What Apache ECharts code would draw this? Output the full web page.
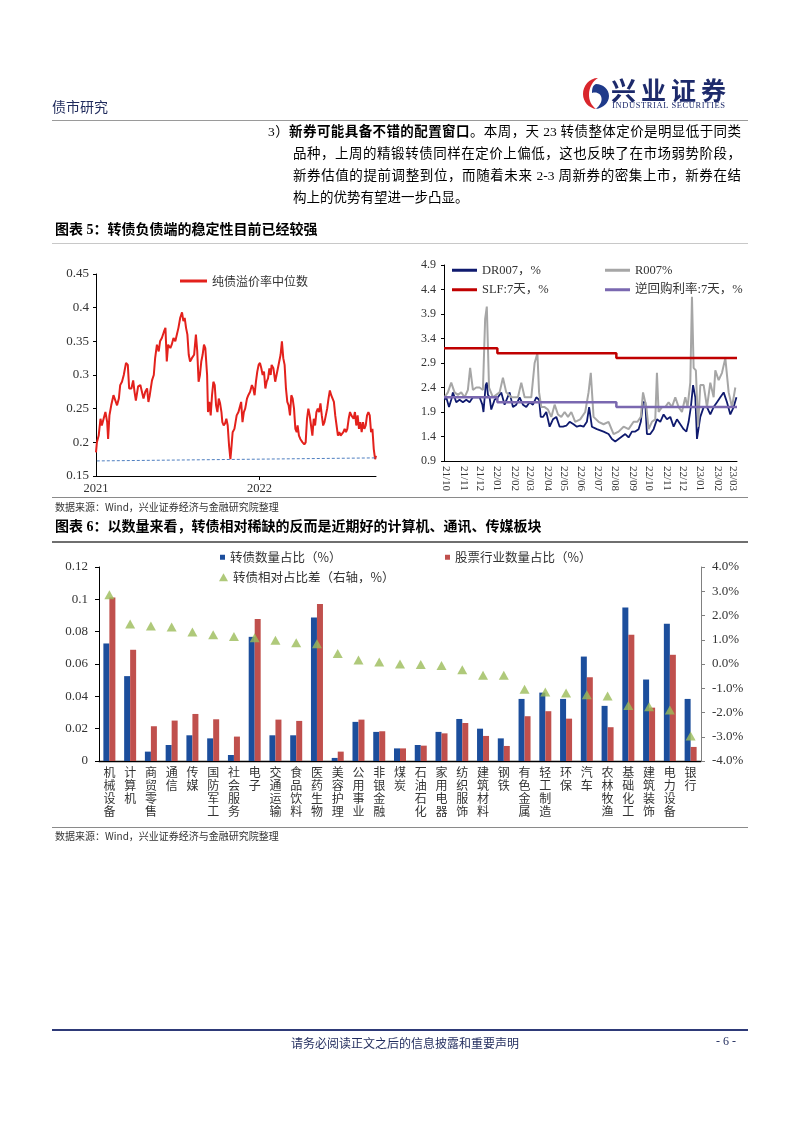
<!DOCTYPE html>
<html><head><meta charset="utf-8">
<script src="https://cdn.jsdelivr.net/npm/echarts@6/dist/echarts.min.js"></script>
<style>
body{margin:0;background:#fff;}
#page{position:relative;width:802px;height:1133px;overflow:hidden;font-family:'Liberation Serif','Noto Sans CJK SC',serif;color:#000;}
#chart{position:absolute;left:0;top:0;width:802px;height:1133px;}
.t{position:absolute;white-space:nowrap;}
.hl{position:absolute;left:52px;width:696px;}
.p{position:absolute;font-size:13.5px;line-height:22px;height:22px;overflow:visible;}
.j{text-align:justify;text-align-last:justify;}
.ttl{font-family:'Liberation Serif','Noto Sans CJK SC',serif;font-weight:bold;font-size:14px;line-height:16px;}
.src{font-family:'Noto Sans CJK SC',sans-serif;font-size:10px;line-height:12px;color:#333;}
</style></head><body>
<div id="page">
<div id="chart"></div>

<div class="t" style="left:52px;top:96px;font-family:'Noto Sans CJK SC',sans-serif;font-size:14px;color:#1f2a5c;">债市研究</div>
<svg style="position:absolute;left:582px;top:77px" width="28" height="33" viewBox="0 0 28 33">
<path d="M16 1 C7 1 1 9 1 17 C1 25 7 31 14 32 C9 28 7 23 7 18 C7 10 11 4 16 1 Z" fill="#d9262c"/>
<path d="M14 7 C21 7 27 12 27 19 C27 26 21 31 14 32 C18 28 20 25 19.5 21 C19 17 15 14.5 10 16 C10 11 11 8 14 7 Z" fill="#1f3a8a"/>
</svg>
<div class="t" style="left:611px;top:75px;font-family:'Noto Sans CJK SC',sans-serif;font-weight:bold;font-size:25px;letter-spacing:5px;color:#1d2a6b;line-height:29px;">兴业证券</div>
<div class="t" style="left:612px;top:100px;font-family:'Liberation Serif',serif;font-size:8.5px;letter-spacing:0.6px;color:#1d2a6b;">INDUSTRIAL SECURITIES</div>
<div class="hl" style="top:120px;height:1px;background:#9a9a9a;"></div>

<div class="p j" style="left:268px;top:121px;width:473px;">3）<b>新券可能具备不错的配置窗口</b>。本周，天 23 转债整体定价是明显低于同类</div>
<div class="p j" style="left:293px;top:143px;width:448px;">品种，上周的精锻转债同样在定价上偏低，这也反映了在市场弱势阶段，</div>
<div class="p j" style="left:293px;top:165px;width:448px;">新券估值的提前调整到位，而随着未来 2-3 周新券的密集上市，新券在结</div>
<div class="p" style="left:293px;top:187px;width:448px;white-space:nowrap;">构上的优势有望进一步凸显。</div>

<div class="t ttl" style="left:55px;top:222px;">图表 5：转债负债端的稳定性目前已经较强</div>
<div class="hl" style="top:243px;height:1px;background:#c8c8c8;"></div>
<div class="hl" style="top:497px;height:1px;background:#8a8a8a;"></div>
<div class="t src" style="left:55px;top:501px;">数据来源：Wind，兴业证券经济与金融研究院整理</div>
<div class="t ttl" style="left:55px;top:519px;">图表 6：以数量来看，转债相对稀缺的反而是近期好的计算机、通讯、传媒板块</div>
<div class="hl" style="top:541px;height:2px;background:#6f6f6f;"></div>
<div class="hl" style="top:827px;height:1px;background:#8a8a8a;"></div>
<div class="t src" style="left:55px;top:830px;">数据来源：Wind，兴业证券经济与金融研究院整理</div>

<div class="hl" style="top:1029px;height:2px;background:#2e3a78;"></div>
<div class="t" style="left:291px;top:1034px;font-family:'Noto Sans CJK SC',sans-serif;font-size:12px;color:#1f2a5c;">请务必阅读正文之后的信息披露和重要声明</div>
<div class="t" style="left:716px;top:1034px;font-family:'Liberation Serif',serif;font-size:12px;color:#1f2a5c;">- 6 -</div>
</div>

<script>
// ---------- 图表5 左：纯债溢价率中位数 (x = days since 2021-01-01) ----------
const premiumMedian = [[0,0.185],[2,0.20],[6,0.21],[10,0.235],[13,0.225],[17,0.235],[21,0.245],[25,0.23],[27,0.205],[30,0.24],[34,0.255],[39,0.27],[43,0.272],[47,0.255],[51,0.265],[54,0.285],[58,0.29],[62,0.30],[67,0.318],[71,0.315],[74,0.28],[79,0.28],[83,0.292],[86,0.275],[89,0.262],[94,0.283],[99,0.285],[103,0.285],[106,0.265],[110,0.275],[114,0.28],[117,0.26],[120,0.27],[125,0.292],[129,0.30],[132,0.325],[136,0.345],[140,0.335],[143,0.35],[147,0.355],[152,0.365],[155,0.37],[158,0.32],[161,0.345],[166,0.34],[169,0.345],[173,0.355],[177,0.35],[181,0.348],[184,0.37],[188,0.385],[192,0.393],[195,0.38],[198,0.385],[201,0.37],[204,0.36],[207,0.33],[210,0.32],[214,0.325],[219,0.33],[223,0.36],[226,0.335],[229,0.29],[232,0.30],[235,0.32],[238,0.33],[241,0.345],[244,0.34],[248,0.30],[250,0.245],[253,0.26],[256,0.24],[259,0.27],[262,0.29],[265,0.285],[268,0.255],[271,0.245],[274,0.265],[277,0.258],[280,0.245],[282,0.23],[285,0.225],[288,0.228],[291,0.235],[294,0.225],[297,0.195],[300,0.175],[302,0.19],[305,0.215],[309,0.22],[314,0.24],[318,0.245],[322,0.245],[324,0.26],[327,0.23],[330,0.245],[333,0.25],[337,0.265],[340,0.27],[344,0.275],[348,0.285],[351,0.28],[354,0.27],[357,0.29],[360,0.305],[363,0.315],[366,0.318],[369,0.31],[372,0.30],[375,0.305],[378,0.28],[381,0.29],[384,0.295],[387,0.31],[390,0.30],[392,0.315],[396,0.31],[400,0.29],[403,0.30],[406,0.31],[409,0.32],[412,0.33],[415,0.35],[418,0.325],[421,0.315],[424,0.28],[427,0.26],[430,0.255],[433,0.24],[436,0.27],[439,0.265],[442,0.25],[445,0.22],[448,0.215],[450,0.225],[453,0.21],[456,0.205],[461,0.20],[465,0.197],[468,0.20],[471,0.235],[474,0.25],[477,0.24],[480,0.225],[483,0.21],[486,0.235],[489,0.225],[492,0.245],[495,0.25],[498,0.245],[501,0.258],[504,0.24],[507,0.225],[510,0.23],[513,0.23],[516,0.25],[519,0.265],[522,0.277],[525,0.27],[528,0.27],[531,0.26],[534,0.24],[537,0.225],[540,0.21],[543,0.215],[546,0.21],[549,0.21],[552,0.215],[555,0.22],[558,0.215],[561,0.22],[564,0.235],[567,0.245],[570,0.24],[572,0.24],[575,0.235],[578,0.245],[581,0.225],[584,0.24],[587,0.22],[590,0.23],[593,0.215],[596,0.23],[599,0.22],[602,0.225],[605,0.24],[608,0.245],[611,0.24],[614,0.215],[617,0.22],[620,0.19],[623,0.175],[625,0.18]];
const premiumFloor = [[-54,0.172],[638,0.177]];
const premYearTicks = [0, 365];
const premYearLabels = ['2021', '2022'];

// ---------- 图表5 右：资金利率 (x = days since 2021-10-01) ----------
const dr007 = [[-3,2.15],[0,2.2],[5,2.0],[9,2.15],[12,2.3],[18,2.1],[24,2.15],[30,2.1],[36,2.15],[42,2.1],[48,2.2],[54,2.2],[60,2.2],[65,2.05],[67,1.9],[71,2.45],[73,2.5],[75,2.25],[78,2.2],[81,1.95],[87,2.15],[93,2.2],[99,2.3],[105,2.05],[114,2.3],[120,2.0],[126,2.05],[132,2.2],[138,2.05],[144,2.0],[150,2.1],[156,2.05],[162,2.2],[167,2.15],[170,1.8],[174,1.8],[180,1.9],[186,1.6],[192,1.75],[198,1.8],[204,1.6],[210,1.6],[216,1.62],[222,1.7],[229,1.65],[235,1.6],[241,1.62],[247,1.6],[253,1.7],[257,2.0],[262,1.6],[271,1.55],[283,1.5],[292,1.45],[298,1.35],[304,1.3],[310,1.35],[316,1.4],[322,1.45],[328,1.38],[334,1.5],[340,1.5],[346,1.55],[350,1.7],[354,2.1],[358,2.1],[361,1.45],[367,1.45],[373,1.55],[379,1.75],[385,1.7],[391,1.85],[397,1.75],[403,1.8],[409,1.6],[415,1.75],[421,1.65],[427,1.55],[432,1.5],[436,1.7],[440,2.0],[444,2.45],[448,2.2],[451,1.35],[457,1.8],[463,2.0],[469,2.0],[475,1.85],[481,2.0],[487,2.1],[493,2.2],[499,2.3],[505,2.1],[511,1.85],[517,2.0],[522,2.2]];
const r007 = [[-3,2.2],[3,2.3],[9,2.5],[15,2.3],[21,2.25],[27,2.3],[33,2.2],[39,2.35],[43,2.8],[48,2.35],[54,2.4],[60,2.4],[66,2.35],[70,3.8],[73,4.05],[77,2.4],[84,2.2],[90,2.25],[96,2.3],[102,2.6],[108,2.3],[117,2.2],[123,2.2],[129,2.2],[135,2.5],[141,2.2],[147,2.2],[153,2.2],[159,2.9],[164,3.1],[167,2.3],[171,2.0],[177,2.0],[183,1.95],[189,1.8],[195,2.05],[201,1.85],[207,1.8],[213,1.9],[219,1.8],[225,1.9],[232,1.7],[241,1.75],[250,1.9],[256,2.3],[260,2.7],[265,1.8],[274,1.7],[283,1.65],[292,1.7],[301,1.45],[310,1.5],[319,1.6],[328,1.55],[337,1.7],[344,1.7],[350,1.8],[354,2.3],[360,2.0],[364,1.55],[370,1.7],[376,1.75],[379,2.7],[382,1.9],[388,2.0],[394,2.0],[400,2.1],[406,2.0],[412,2.2],[418,2.0],[424,1.9],[430,2.2],[434,2.0],[439,2.5],[442,4.25],[445,2.8],[449,2.75],[453,1.6],[457,2.45],[463,2.45],[469,2.0],[475,2.5],[481,2.2],[484,2.75],[490,2.55],[496,2.7],[502,3.0],[508,2.3],[514,2.0],[520,2.4]];
const slf7 = [[-4,3.2],[92,3.1],[306,3.0],[523,3.0]];
const reverseRepo7 = [[-4,2.2],[92,2.1],[306,2.0],[523,2.0]];
const rateAxisBase = 0.9;
const rateDayMin = -4, rateDayMax = 523;

// ---------- 图表6 ----------
const industries = ['机械设备','计算机','商贸零售','通信','传媒','国防军工','社会服务','电子','交通运输','食品饮料','医药生物','美容护理','公用事业','非银金融','煤炭','石油石化','家用电器','纺织服饰','建筑材料','钢铁','有色金属','轻工制造','环保','汽车','农林牧渔','基础化工','建筑装饰','电力设备','银行'];
const cbShare = [0.0727,0.0525,0.0058,0.0099,0.0159,0.014,0.0037,0.0768,0.0159,0.0159,0.0888,0.0019,0.0242,0.018,0.0078,0.0099,0.018,0.026,0.02,0.014,0.0384,0.0423,0.0384,0.0646,0.0341,0.095,0.0504,0.0849,0.0384];
const stockShare = [0.1012,0.0688,0.0215,0.025,0.0291,0.0258,0.0151,0.0878,0.0256,0.0248,0.0971,0.0058,0.0256,0.0184,0.0078,0.0095,0.0171,0.0235,0.0155,0.0093,0.0277,0.0308,0.0262,0.0518,0.0209,0.0781,0.033,0.0657,0.0087];
const relDiff = [2.86,1.65,1.57,1.53,1.32,1.21,1.13,1.08,0.98,0.88,0.83,0.43,0.17,0.08,0.0,-0.02,-0.06,-0.24,-0.46,-0.46,-1.04,-1.15,-1.2,-1.27,-1.32,-1.71,-1.76,-1.9,-2.97];

const SERIF = "'Liberation Serif','Times New Roman','Noto Sans CJK SC',serif";
const CJK = "'Noto Sans CJK SC',sans-serif";
function dayTime(d){ return new Date(2021, 9, 1 + d).getTime(); }
const rateData = arr => arr.map(([d, v]) => [dayTime(d), +(v - rateAxisBase).toFixed(4)]);
const lab = {color:'#333', fontFamily:SERIF};
const blackLine = {show:true, lineStyle:{color:'#000', width:1}};

const chart = echarts.init(document.getElementById('chart'));
chart.setOption({
  animation:false,
  grid:[
    {left:96, top:274, width:280, height:202, outerBoundsMode:'none'},
    {left:444, top:265, width:293, height:196, outerBoundsMode:'none'},
    {left:99, top:567, width:602, height:194, outerBoundsMode:'none'}
  ],
  xAxis:[
    {gridIndex:0, type:'value', min:0, max:625, interval:365,
     axisLine:blackLine, splitLine:{show:false},
     axisTick:{show:true, length:4, customValues:[premYearTicks[1]], lineStyle:{color:'#000'}},
     axisLabel:{...lab, fontSize:12.5, margin:6, customValues:premYearTicks,
       formatter:v => premYearLabels[premYearTicks.indexOf(v)] || ''}},
    {gridIndex:1, type:'time', min:dayTime(rateDayMin), max:dayTime(rateDayMax), splitNumber:17,
     axisLine:blackLine, axisTick:{show:false}, splitLine:{show:false},
     axisLabel:{...lab, fontSize:11, rotate:-90, margin:5, showMinLabel:false, showMaxLabel:false,
       formatter:v => { const d = new Date(v); if (d.getDate() !== 1) return ''; return String(d.getFullYear()).slice(2) + '/' + String(d.getMonth()+1).padStart(2,'0'); }}},
    {gridIndex:2, type:'category', data:industries,
     axisLine:{show:true, lineStyle:{color:'#000', width:1.3}}, axisTick:{show:false},
     axisLabel:{interval:0, fontFamily:CJK, fontSize:12, lineHeight:13, color:'#333', margin:5,
       formatter:s => s.split('').join('\n')}}
  ],
  yAxis:[
    {gridIndex:0, type:'value', min:0.15, max:0.45, interval:0.05,
     axisLine:blackLine, splitLine:{show:false}, axisTick:{show:true, length:3, lineStyle:{color:'#000'}},
     axisLabel:{...lab, fontSize:13, margin:7}},
    {gridIndex:1, type:'value', min:0, max:4, interval:0.5,
     axisLine:blackLine, splitLine:{show:false}, axisTick:{show:true, length:3, lineStyle:{color:'#000'}},
     axisLabel:{...lab, fontSize:12, margin:8, formatter:v => (v + rateAxisBase).toFixed(1)}},
    {gridIndex:2, type:'value', min:0, max:0.12, interval:0.02,
     axisLine:blackLine, splitLine:{show:false}, axisTick:{show:true, length:4, lineStyle:{color:'#000'}},
     axisLabel:{...lab, fontSize:13, margin:11}},
    {gridIndex:2, type:'value', position:'right', min:-4, max:4, interval:1,
     axisLine:{show:true, lineStyle:{color:'#808080'}}, splitLine:{show:false},
     axisTick:{show:true, length:4, lineStyle:{color:'#808080'}},
     axisLabel:{...lab, fontSize:13, margin:11, formatter:v => v.toFixed(1) + '%'}}
  ],
  legend:[
    {data:['纯债溢价率中位数'], left:180, top:275, padding:0, itemWidth:27, itemHeight:3, icon:'rect',
     textStyle:{fontFamily:CJK, fontSize:12, color:'#333'}},
    {data:['DR007，%','SLF:7天，%'], orient:'vertical', left:452, top:264, padding:0, itemGap:7, itemWidth:25, itemHeight:3, icon:'rect',
     textStyle:{fontFamily:SERIF, fontSize:12.5, color:'#333'}},
    {data:['R007%','逆回购利率:7天，%'], orient:'vertical', left:605, top:264, padding:0, itemGap:7, itemWidth:25, itemHeight:3, icon:'rect',
     textStyle:{fontFamily:SERIF, fontSize:12.5, color:'#333'}},
    {data:[{name:'转债数量占比（%）', icon:'rect'}], left:220, top:551, padding:0, itemWidth:5, itemHeight:5,
     textStyle:{fontFamily:CJK, fontSize:12.5, color:'#333'}},
    {data:[{name:'股票行业数量占比（%）', icon:'rect'}], left:445, top:551, padding:0, itemWidth:5, itemHeight:5,
     textStyle:{fontFamily:CJK, fontSize:12.5, color:'#333'}},
    {data:[{name:'转债相对占比差（右轴，%）', icon:'triangle'}], left:219, top:571, padding:0, itemWidth:9, itemHeight:8,
     textStyle:{fontFamily:CJK, fontSize:12.5, color:'#333'}}
  ],
  series:[
    {type:'line', name:'纯债溢价率中位数', xAxisIndex:0, yAxisIndex:0, data:premiumMedian, symbol:'none',
     lineStyle:{color:'#e3211c', width:2}, itemStyle:{color:'#e3211c'}},
    {type:'line', name:'floor', xAxisIndex:0, yAxisIndex:0, data:premiumFloor, symbol:'none', clip:false, silent:true,
     lineStyle:{color:'#4f7fc0', width:1, type:[3,2]}},
    {type:'line', name:'DR007，%', xAxisIndex:1, yAxisIndex:1, data:rateData(dr007), symbol:'none',
     lineStyle:{color:'#0f1a6e', width:1.8}, itemStyle:{color:'#0f1a6e'}},
    {type:'line', name:'R007%', xAxisIndex:1, yAxisIndex:1, data:rateData(r007), symbol:'none',
     lineStyle:{color:'#a6a6a6', width:2}, itemStyle:{color:'#a6a6a6'}},
    {type:'line', name:'SLF:7天，%', xAxisIndex:1, yAxisIndex:1, data:rateData(slf7), step:'end', symbol:'none',
     lineStyle:{color:'#c00000', width:2.5}, itemStyle:{color:'#c00000'}},
    {type:'line', name:'逆回购利率:7天，%', xAxisIndex:1, yAxisIndex:1, data:rateData(reverseRepo7), step:'end', symbol:'none',
     lineStyle:{color:'#7a68b0', width:2.5}, itemStyle:{color:'#7a68b0'}},
    {type:'bar', name:'转债数量占比（%）', xAxisIndex:2, yAxisIndex:2, data:cbShare, barWidth:6, barGap:'0%',
     itemStyle:{color:'#1c4e9c'}},
    {type:'bar', name:'股票行业数量占比（%）', xAxisIndex:2, yAxisIndex:2, data:stockShare, barWidth:6, barGap:'0%',
     itemStyle:{color:'#c0504d'}},
    {type:'scatter', name:'转债相对占比差（右轴，%）', xAxisIndex:2, yAxisIndex:3, data:relDiff,
     symbol:'triangle', symbolSize:[10,9], itemStyle:{color:'#9bbb59'}}
  ]
});
</script>
</body></html>
